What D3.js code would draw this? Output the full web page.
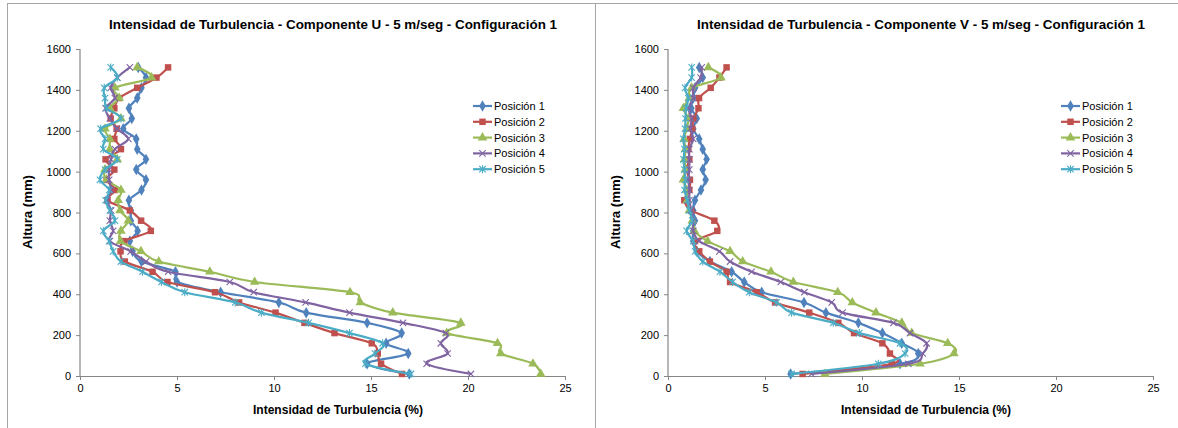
<!DOCTYPE html>
<html>
<head>
<meta charset="utf-8">
<script src="https://cdn.jsdelivr.net/npm/d3@7"></script>
<style>
  html, body { margin: 0; padding: 0; background: #fff; }
  svg { display: block; font-family: "Liberation Sans", Arial, sans-serif; }
</style>
</head>
<body>
<svg id="chart" width="1178" height="428"></svg>
<script>
// ---- data ----
const heights = [10, 60, 110, 160, 210, 260, 310, 360, 410, 460, 510, 560, 610, 660, 710, 760,
                 810, 860, 910, 960, 1010, 1060, 1110, 1160, 1210, 1260, 1310, 1360, 1410, 1460, 1510];
const seriesNames = ["Posición 1", "Posición 2", "Posición 3", "Posición 4", "Posición 5"];

const u_pos1 = [16.97, 14.8, 16.92, 15.78, 16.58, 14.8, 11.66, 10.25, 7.25, 5.0, 4.92, 3.17, 2.71, 2.57, 2.97, 2.62,
                2.62, 2.52, 3.17, 3.4, 2.9, 3.4, 2.95, 2.9, 2.23, 2.67, 2.52, 2.95, 3.17, 3.4, 3.0];
const u_pos2 = [16.6, 15.52, 15.35, 15.04, 13.12, 11.57, 10.08, 8.2, 6.96, 4.51, 3.74, 2.31, 2.09, 2.28, 3.65, 3.15,
                2.57, 1.42, 1.8, 1.37, 1.77, 1.32, 2.11, 1.77, 1.89, 1.58, 1.77, 2.02, 2.95, 3.94, 4.54];
const u_pos3 = [23.75, 23.35, 21.69, 21.52, 18.9, 19.63, 16.12, 14.45, 13.92, 9.0, 6.69, 4.06, 3.14, 2.09, 2.11, 2.49,
                2.06, 1.97, 2.11, 1.37, 1.29, 1.92, 1.54, 1.54, 1.29, 2.11, 1.54, 2.02, 1.8, 3.69, 2.95];
const u_pos4 = [20.15, 17.87, 18.95, 18.6, 18.86, 16.65, 13.89, 11.63, 8.95, 7.72, 4.54, 3.4, 2.61, 1.54, 1.71, 1.54,
                1.6, 1.4, 1.6, 1.5, 1.5, 1.6, 1.8, 2.49, 1.9, 1.54, 1.32, 1.8, 1.58, 1.92, 2.57];
const u_pos5 = [17.06, 14.71, 15.21, 15.6, 13.89, 11.78, 9.35, 8.0, 5.4, 4.2, 3.22, 2.11, 1.71, 1.5, 1.2, 1.8,
                1.54, 1.32, 1.51, 1.03, 1.29, 1.92, 1.2, 1.29, 1.06, 2.11, 1.37, 1.29, 1.25, 1.92, 1.58];

const v_pos1 = [6.32, 11.96, 12.9, 12.05, 11.05, 9.81, 8.14, 7.01, 4.83, 3.93, 3.28, 2.16, 1.48, 1.3, 1.3, 1.39,
                1.3, 1.39, 1.7, 1.94, 1.79, 1.99, 1.79, 1.61, 1.3, 1.48, 1.2, 1.3, 1.4, 1.79, 1.61];
const v_pos2 = [6.94, 11.53, 11.44, 11.05, 9.59, 8.78, 7.28, 5.52, 4.57, 3.2, 3.02, 2.16, 1.61, 1.39, 2.54, 2.39,
                1.2, 0.84, 1.1, 1.13, 0.95, 1.1, 1.05, 1.13, 1.25, 1.31, 1.57, 1.6, 2.2, 2.65, 3.02];
const v_pos3 = [8.09, 12.99, 14.74, 14.42, 12.56, 12.05, 10.72, 9.5, 8.75, 6.46, 5.31, 3.85, 3.2, 2.04, 1.36, 1.25,
                1.1, 1.0, 0.95, 0.79, 0.9, 0.85, 0.9, 0.83, 0.96, 1.05, 0.79, 1.1, 1.22, 2.73, 2.08];
const v_pos4 = [7.4, 12.39, 13.13, 13.33, 12.47, 11.62, 9.0, 8.44, 7.03, 5.81, 4.31, 3.2, 2.65, 1.61, 1.3, 1.3,
                1.2, 1.1, 1.1, 1.05, 1.1, 1.1, 1.1, 1.3, 1.15, 1.22, 1.05, 1.3, 1.3, 1.68, 1.74];
const v_pos5 = [6.37, 10.84, 12.22, 11.96, 9.86, 8.52, 6.37, 5.6, 4.19, 3.33, 2.68, 1.79, 1.4, 1.3, 0.96, 1.25,
                1.1, 1.0, 0.85, 0.9, 0.85, 0.8, 0.85, 0.79, 0.88, 0.9, 0.93, 1.05, 0.88, 1.22, 1.22];

const xTicks = [0, 5, 10, 15, 20, 25];
const yTicks = [0, 200, 400, 600, 800, 1000, 1200, 1400, 1600];
const titleU = "Intensidad de Turbulencia - Componente U - 5 m/seg - Configuración 1";
const titleV = "Intensidad de Turbulencia - Componente V - 5 m/seg - Configuración 1";
const xLabel = "Intensidad de Turbulencia (%)";
const yLabel = "Altura (mm)";

// ---- styles ----
const colors = ["#4F81BD", "#C0504D", "#9BBB59", "#8064A2", "#4BACC6"];
const markers = ["diamond", "square", "triangle", "x", "star"];
const axisColor = "#868686";

const svg = d3.select("#chart");

function drawMarker(g, type, color, x, y) {
  if (type === "diamond") {
    g.append("path").attr("d", d3.symbol(d3.symbolDiamond, 38)()).attr("transform", `translate(${x},${y})`).attr("fill", color);
  } else if (type === "square") {
    g.append("path").attr("d", d3.symbol(d3.symbolSquare, 42)()).attr("transform", `translate(${x},${y})`).attr("fill", color);
  } else if (type === "triangle") {
    g.append("path").attr("d", d3.symbol(d3.symbolTriangle, 40)()).attr("transform", `translate(${x},${y})`).attr("fill", color);
  } else if (type === "x") {
    const s = 3.2;
    g.append("path").attr("d", `M${x - s},${y - s}L${x + s},${y + s}M${x - s},${y + s}L${x + s},${y - s}`)
      .attr("stroke", color).attr("stroke-width", 1.1).attr("fill", "none");
  } else {
    const s = 3.2;
    g.append("path").attr("d", `M${x - s},${y - s}L${x + s},${y + s}M${x - s},${y + s}L${x + s},${y - s}M${x},${y - s - 0.8}L${x},${y + s + 0.8}`)
      .attr("stroke", color).attr("stroke-width", 1.1).attr("fill", "none");
  }
}

function drawPanel(ox, title, seriesList) {
  const g = svg.append("g").attr("transform", `translate(${ox},0)`);
  // frame
  g.append("rect").attr("x", 7.5).attr("y", 3.5).attr("width", 590).attr("height", 440)
    .attr("fill", "#fff").attr("stroke", "#a6a6a6").attr("stroke-width", 1);

  const x = d3.scaleLinear().domain([0, 25]).range([80, 565]);
  const y = d3.scaleLinear().domain([0, 1600]).range([376, 49]);

  // title
  g.append("text").attr("x", 333).attr("y", 29).attr("text-anchor", "middle")
    .attr("font-size", 13).attr("font-weight", "bold").attr("fill", "#000")
    .attr("textLength", 448).attr("lengthAdjust", "spacingAndGlyphs").text(title);

  // axes
  const fmt = d3.format("d");
  const xAxis = d3.axisBottom(x).tickValues(xTicks).tickFormat(fmt).tickSize(4).tickSizeOuter(0).tickPadding(4);
  const yAxis = d3.axisLeft(y).tickValues(yTicks).tickFormat(fmt).tickSize(4).tickSizeOuter(0).tickPadding(5);
  const gx = g.append("g").attr("transform", "translate(0,376)").call(xAxis);
  const gy = g.append("g").attr("transform", "translate(80,0)").call(yAxis);
  [gx, gy].forEach(a => {
    a.select(".domain").attr("stroke", axisColor).attr("stroke-width", 1.2);
    a.selectAll(".tick line").attr("stroke", axisColor);
    a.selectAll(".tick text").attr("fill", "#000").attr("font-size", 11)
      .attr("font-family", "'Liberation Sans', Arial, sans-serif");
  });
  gy.select(".domain").attr("d", "M0,376V49");

  // axis titles
  g.append("text").attr("x", 338).attr("y", 414).attr("text-anchor", "middle")
    .attr("font-size", 12).attr("font-weight", "bold")
    .attr("textLength", 170).attr("lengthAdjust", "spacingAndGlyphs").text(xLabel);
  g.append("text").attr("transform", "translate(32,212) rotate(-90)").attr("text-anchor", "middle")
    .attr("font-size", 12).attr("font-weight", "bold")
    .attr("textLength", 74).attr("lengthAdjust", "spacingAndGlyphs").text(yLabel);

  // series
  const line = d3.line().x(d => x(d[0])).y(d => y(d[1])).curve(d3.curveCardinal.tension(0));
  seriesList.forEach((vals, i) => {
    const pts = vals.map((v, k) => [v, heights[k]]);
    g.append("path").attr("d", line(pts)).attr("fill", "none")
      .attr("stroke", colors[i]).attr("stroke-width", 2.2);
    const mg = g.append("g");
    pts.forEach(p => drawMarker(mg, markers[i], colors[i], x(p[0]), y(p[1])));
  });

  // legend
  seriesNames.forEach((name, i) => {
    const ly = 106 + i * 15.8;
    const lg = g.append("g");
    lg.append("line").attr("x1", 473).attr("x2", 492).attr("y1", ly).attr("y2", ly)
      .attr("stroke", colors[i]).attr("stroke-width", 2.2);
    drawMarker(lg, markers[i], colors[i], 482.5, ly);
    lg.append("text").attr("x", 494).attr("y", ly + 4).attr("font-size", 11).attr("fill", "#000").text(name);
  });
}

drawPanel(0, titleU, [u_pos1, u_pos2, u_pos3, u_pos4, u_pos5]);
drawPanel(588, titleV, [v_pos1, v_pos2, v_pos3, v_pos4, v_pos5]);
</script>
</body>
</html>
